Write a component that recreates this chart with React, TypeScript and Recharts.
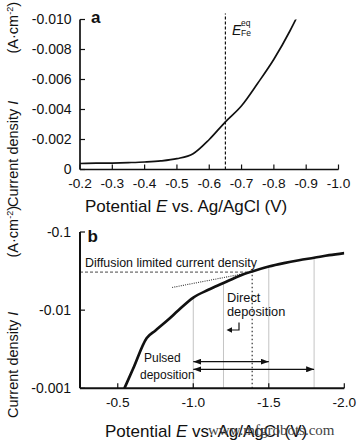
import React from 'react';
import { LineChart, Line, XAxis, YAxis, ReferenceLine } from 'recharts';

// ─── Panel a: polarisation curve, linear current axis ───────────────────────
const potentialA = [-0.2, -0.25, -0.3, -0.35, -0.4, -0.45, -0.5, -0.55, -0.6, -0.65, -0.7, -0.75, -0.8, -0.85, -0.87];
const currentA = [-0.0004, -0.00042, -0.00043, -0.00046, -0.0005, -0.00057, -0.00072, -0.00105, -0.002, -0.00318, -0.00425, -0.00575, -0.00735, -0.00925, -0.0101];
const ticksAx = [-0.2, -0.3, -0.4, -0.5, -0.6, -0.7, -0.8, -0.9, -1.0];
const ticksAy = [0, -0.002, -0.004, -0.006, -0.008, -0.01];
const eqPotentialFe = -0.65;
const eqLineTop = -0.0104;

// ─── Panel b: same curve on a log current axis ───────────────────────────────
const potentialB = [-0.544, -0.6, -0.692, -0.75, -0.835, -0.9, -1.0, -1.1, -1.2, -1.3, -1.39, -1.5, -1.6, -1.7, -1.8, -1.9, -2.0];
const currentB = [-0.001, -0.00175, -0.0044, -0.0055, -0.0076, -0.0099, -0.0145, -0.0182, -0.0222, -0.0272, -0.0313, -0.0362, -0.04, -0.0435, -0.0468, -0.0505, -0.0538];
const ticksBx = [-0.5, -1.0, -1.5, -2.0];
const ticksBy = [-0.001, -0.01, -0.1];
const diffusionLimit = -0.0307;
const tangentPotentials = [-0.86, -1.39];
const tangentCurrents = [-0.0195, -0.0307];
const guidePotentials = [-1.0, -1.2, -1.5, -1.8];
const guideCurrents = [-0.0145, -0.0222, -0.0362, -0.0468];
const directPotential = -1.39;
const pulsedStarts = [-1.0, -1.0];
const pulsedEnds = [-1.5, -1.8];
const pulsedLevels = [-0.00219, -0.00175];

const FONT = '"Liberation Sans", Arial, sans-serif';
const INK = '#111';

const dataA = potentialA.map((E, i) => ({ E, I: currentA[i] }));
// log axis needs positive numbers, labels put the sign back
const dataB = potentialB.map((E, i) => ({ E, mag: -currentB[i] }));

const tickStyle = (size: number) => ({ fill: INK, fontSize: size, fontFamily: FONT });

export default function App() {
  return (
    <div style={{ position: 'absolute', left: 0, top: 0, width: 358, height: 441, background: '#fff', overflow: 'hidden' }}>
      {/* panel a */}
      <div style={{ position: 'absolute', left: 0, top: 0 }}>
        <LineChart width={358} height={210} data={dataA} margin={{ top: 19.5, right: 19.5, bottom: 10.5, left: 0 }}>
          <XAxis
            dataKey="E"
            type="number"
            domain={[-1.0, -0.2]}
            reversed
            ticks={ticksAx}
            interval={0}
            allowDataOverflow
            height={30}
            tickSize={-5}
            tickMargin={13.5}
            axisLine={{ stroke: INK, strokeWidth: 1.7 }}
            tickLine={{ stroke: INK, strokeWidth: 1.2 }}
            tick={tickStyle(13.7)}
            tickFormatter={(v: number) => v.toFixed(1)}
          />
          <YAxis
            type="number"
            domain={[-0.01, 0]}
            reversed
            ticks={ticksAy}
            interval={0}
            allowDataOverflow
            width={80}
            tickSize={-5}
            tickMargin={13.5}
            axisLine={{ stroke: INK, strokeWidth: 1.7 }}
            tickLine={{ stroke: INK, strokeWidth: 1.2 }}
            tick={tickStyle(14)}
            tickFormatter={(v: number) => (v === 0 ? '0' : v.toFixed(3))}
          />
          <ReferenceLine
            segment={[{ x: eqPotentialFe, y: 0 }, { x: eqPotentialFe, y: eqLineTop }]}
            ifOverflow="visible"
            stroke={INK}
            strokeWidth={1.2}
            strokeDasharray="3 2"
          />
          <Line dataKey="I" type="monotone" stroke={INK} strokeWidth={1.7} dot={false} isAnimationActive={false} />
        </LineChart>
      </div>

      {/* panel b */}
      <div style={{ position: 'absolute', left: 0, top: 215 }}>
        <LineChart width={358} height={226} data={dataB} margin={{ top: 17, right: 13.7, bottom: 22.7, left: 0 }}>
          <XAxis
            dataKey="E"
            type="number"
            domain={[-2.0, -0.25]}
            reversed
            ticks={ticksBx}
            interval={0}
            allowDataOverflow
            height={30}
            tickSize={-5}
            tickMargin={13.5}
            axisLine={{ stroke: INK, strokeWidth: 2 }}
            tickLine={{ stroke: INK, strokeWidth: 1.2 }}
            tick={tickStyle(13.7)}
            tickFormatter={(v: number) => v.toFixed(1)}
          />
          <YAxis
            type="number"
            scale="log"
            domain={[0.001, 0.1]}
            ticks={ticksBy.map((t) => -t)}
            interval={0}
            allowDataOverflow
            width={80}
            tickSize={-5}
            tickMargin={14}
            axisLine={{ stroke: INK, strokeWidth: 2 }}
            tickLine={{ stroke: INK, strokeWidth: 1.2 }}
            tick={tickStyle(14)}
            tickFormatter={(v: number) => `-${v}`}
          />
          {/* guide lines up to the curve */}
          {guidePotentials.map((E, i) => (
            <ReferenceLine
              key={`g-${i}`}
              segment={[{ x: E, y: 0.001 }, { x: E, y: -guideCurrents[i] }]}
              stroke="#c4c4c4"
              strokeWidth={1}
            />
          ))}
          <ReferenceLine
            segment={[{ x: directPotential, y: 0.001 }, { x: directPotential, y: -diffusionLimit }]}
            stroke="#333"
            strokeWidth={1.2}
            strokeDasharray="1.5 2.5"
          />
          <ReferenceLine
            segment={[{ x: -0.25, y: -diffusionLimit }, { x: directPotential, y: -diffusionLimit }]}
            stroke="#333"
            strokeWidth={0.9}
            strokeDasharray="3 2"
          />
          <ReferenceLine
            segment={[
              { x: tangentPotentials[0], y: -tangentCurrents[0] },
              { x: tangentPotentials[1], y: -tangentCurrents[1] },
            ]}
            stroke="#333"
            strokeWidth={1.1}
            strokeDasharray="1 1.2"
          />
          {pulsedLevels.map((lvl, i) => (
            <ReferenceLine
              key={`p-${i}`}
              segment={[{ x: pulsedStarts[i], y: -lvl }, { x: pulsedEnds[i], y: -lvl }]}
              stroke={INK}
              strokeWidth={1.3}
              markerStart="url(#arrowHead)"
              markerEnd="url(#arrowHead)"
            />
          ))}
          <Line dataKey="mag" type="monotone" stroke={INK} strokeWidth={2.7} dot={false} isAnimationActive={false} />
        </LineChart>
      </div>

      {/* titles and annotations */}
      <svg width={358} height={441} style={{ position: 'absolute', left: 0, top: 0, pointerEvents: 'none' }} fontFamily={FONT} fill={INK}>
        <defs>
          <marker id="arrowHead" viewBox="0 0 8 6" refX="8" refY="3" markerWidth="8" markerHeight="6" markerUnits="userSpaceOnUse" orient="auto-start-reverse">
            <path d="M0,0 L8,3 L0,6 z" fill={INK} />
          </marker>
        </defs>

        <text x={91} y={22.5} fontSize={17} fontWeight="bold">a</text>
        <text x={87.5} y={241.5} fontSize={17} fontWeight="bold">b</text>

        <text x={232} y={35} fontSize={14} fontStyle="italic">E</text>
        <text x={241} y={25.5} fontSize={8.5}>eq</text>
        <text x={241} y={36} fontSize={8.5}>Fe</text>

        <text x={85} y={212} fontSize={17}>
          Potential <tspan fontStyle="italic">E</tspan> vs. Ag/AgCl (V)
        </text>
        <text x={105} y={436.5} fontSize={17}>
          Potential <tspan fontStyle="italic">E</tspan> vs. Ag/AgCl (V)
        </text>

        <text transform="translate(18,207) rotate(-90)" fontSize={14.5}>
          Current density <tspan fontStyle="italic">I</tspan>
        </text>
        <text transform="translate(18,2) rotate(-90)" fontSize={14.5} textAnchor="end">
          (A·cm<tspan dy={-5} fontSize={9}>-2</tspan><tspan dy={5}>)</tspan>
        </text>
        <text transform="translate(18,418) rotate(-90)" fontSize={14.5}>
          Current density <tspan fontStyle="italic">I</tspan>
        </text>
        <text transform="translate(18,206) rotate(-90)" fontSize={14.5} textAnchor="end">
          (A·cm<tspan dy={-5} fontSize={9}>-2</tspan><tspan dy={5}>)</tspan>
        </text>

        <text x={85} y={266.5} fontSize={12.4}>Diffusion limited current density</text>
        <text x={227} y={302} fontSize={12.8}>Direct</text>
        <text x={227} y={316} fontSize={12.8}>deposition</text>
        <path d="M239,322.5 V330 H231" stroke={INK} strokeWidth={1.2} fill="none" />
        <path d="M226.5,330 L232,327.3 L232,332.7 z" fill={INK} />
        <text x={144} y={361.5} fontSize={12}>Pulsed</text>
        <text x={140} y={379} fontSize={12}>deposition</text>

        <text x={208} y={435} fontSize={15} fontFamily='"Liberation Serif", serif' fill="#444">www.mfgrobots.com</text>
      </svg>
    </div>
  );
}
